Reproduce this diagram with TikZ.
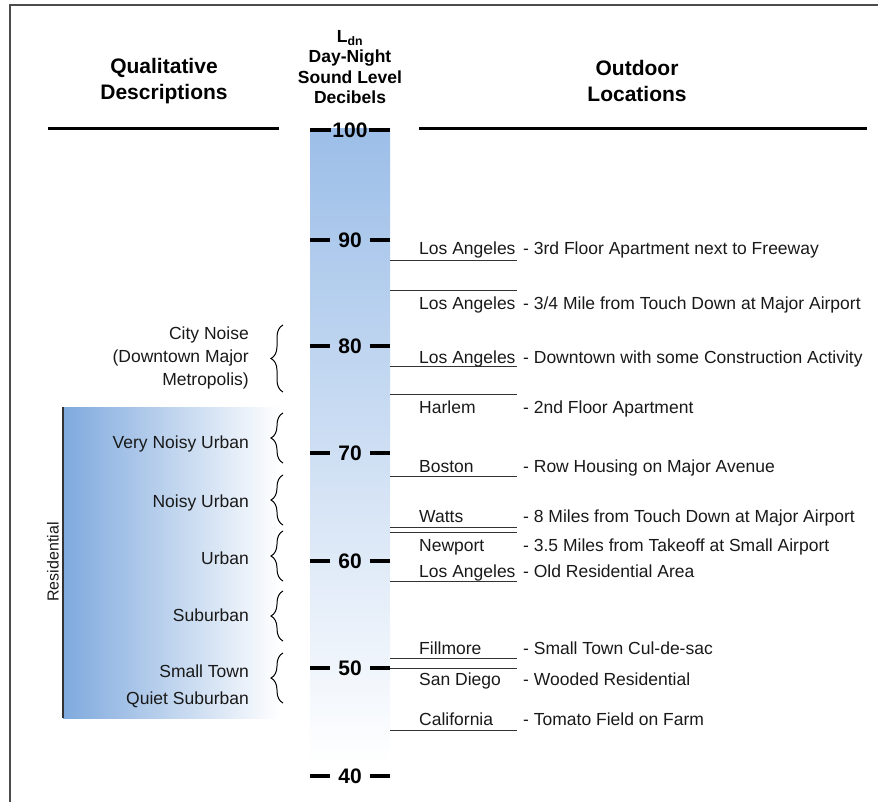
\documentclass[tikz,border=0pt]{standalone}
\usepackage{fontspec}
\setmainfont{Liberation Sans}
\usetikzlibrary{decorations.pathreplacing}
\definecolor{barblue}{HTML}{9CBEE8}
\definecolor{resblue}{HTML}{7FA9DD}
\begin{document}
\begin{tikzpicture}[x=1pt,y=-1pt,
    heading/.style={font=\bfseries\fontsize{21}{26}\selectfont,align=center},
    dbnum/.style={font=\bfseries\fontsize{21}{25}\selectfont,inner xsep=8pt,inner ysep=0pt},
    dbline/.style={line width=3.5pt},
    txt/.style={font=\fontsize{17.5}{21}\selectfont,inner sep=0pt,text=black!90},
    refline/.style={line width=0.8pt,black!80},
    bracket/.style={decorate,decoration={brace,amplitude=12pt},line width=1pt}]
\useasboundingbox (0,0) rectangle (878,802);
\draw[line width=1.5pt,black!70] (10,802) -- (10,5) -- (878,5);
% headings
\node[heading] at (164,81) (qual) {Qualitative\\Descriptions};
\node[heading] at (637,81) (outd) {Outdoor\\Locations};
\node[font=\bfseries\fontsize{17.5}{20.5}\selectfont,align=center] at (350,67) (ldn)
    {L\textsubscript{dn}\\Day-Night\\Sound Level\\Decibels};
\draw[line width=3pt] (48,129) -- (279,129);
\draw[line width=3pt] (419,129) -- (867,129);
% scale
\shade[top color=barblue,bottom color=white] (310,129) rectangle (390,763);
\node[dbnum,inner xsep=1pt] at (350,130) (db100) {100};
\draw[dbline] (310,130) -- (db100.west) (db100.east) -- (390,130);
\foreach \v/\y in {90/240,80/346,70/453,60/561,50/668,40/776}{
    \node[dbnum] at (350,\y) (db\v) {\v};
    \draw[dbline] (310,\y) -- (db\v.west) (db\v.east) -- (390,\y);
}
% residential
\shade[left color=resblue,right color=white] (63,407) rectangle (280,718);
\draw[line width=2pt,black!80] (63,407) -- (63,718);
\node[txt,rotate=90,font=\fontsize{16}{19}\selectfont] at (53,562) (resi) {Residential};
% descriptions
\node[txt,anchor=east,align=right,font=\fontsize{17.5}{23}\selectfont] at (249,358) (city)
    {City Noise\\(Downtown Major\\Metropolis)};
\draw[bracket] (283,392) -- (283,325);
\foreach \n/\t/\ty/\a/\b in {vnu/Very Noisy Urban/442/413/463,nu/Noisy Urban/501/475/525,
        urb/Urban/558/531/581,sub/Suburban/615/591/641}{
    \node[txt,anchor=base east] at (249,{\ty+6}) (\n) {\t};
    \draw[bracket] (283,\b) -- (283,\a);
}
\node[txt,anchor=east,align=right,font=\fontsize{17.5}{27}\selectfont] at (249,686) (town)
    {Small Town\\Quiet Suburban};
\draw[bracket] (283,703) -- (283,653);
% locations
\foreach \n/\place/\desc/\ty/\ly in {
        la1/Los Angeles/3rd Floor Apartment next to Freeway/249/260,
        la2/Los Angeles/{3/4 Mile from Touch Down at Major Airport}/303/290,
        la3/Los Angeles/Downtown with some Construction Activity/357/366,
        har/Harlem/2nd Floor Apartment/407/394,
        bos/Boston/Row Housing on Major Avenue/466/476,
        wat/Watts/8 Miles from Touch Down at Major Airport/516/527,
        new/Newport/3.5 Miles from Takeoff at Small Airport/545/532,
        la4/Los Angeles/Old Residential Area/571/581,
        fil/Fillmore/Small Town Cul-de-sac/648/658,
        sdg/San Diego/Wooded Residential/679/668,
        cal/California/Tomato Field on Farm/719/730}{
    \coordinate (\n a) at (390,\ly);
    \coordinate (\n b) at (517,\ly);
    \draw[refline] (\n a) -- (\n b);
    \node[txt,anchor=base west] at (419,{\ty+6}) (\n p) {\place};
    \node[txt,anchor=base west] at (523,{\ty+6}) (\n d) {- \desc};
}
\end{tikzpicture}
\end{document}
